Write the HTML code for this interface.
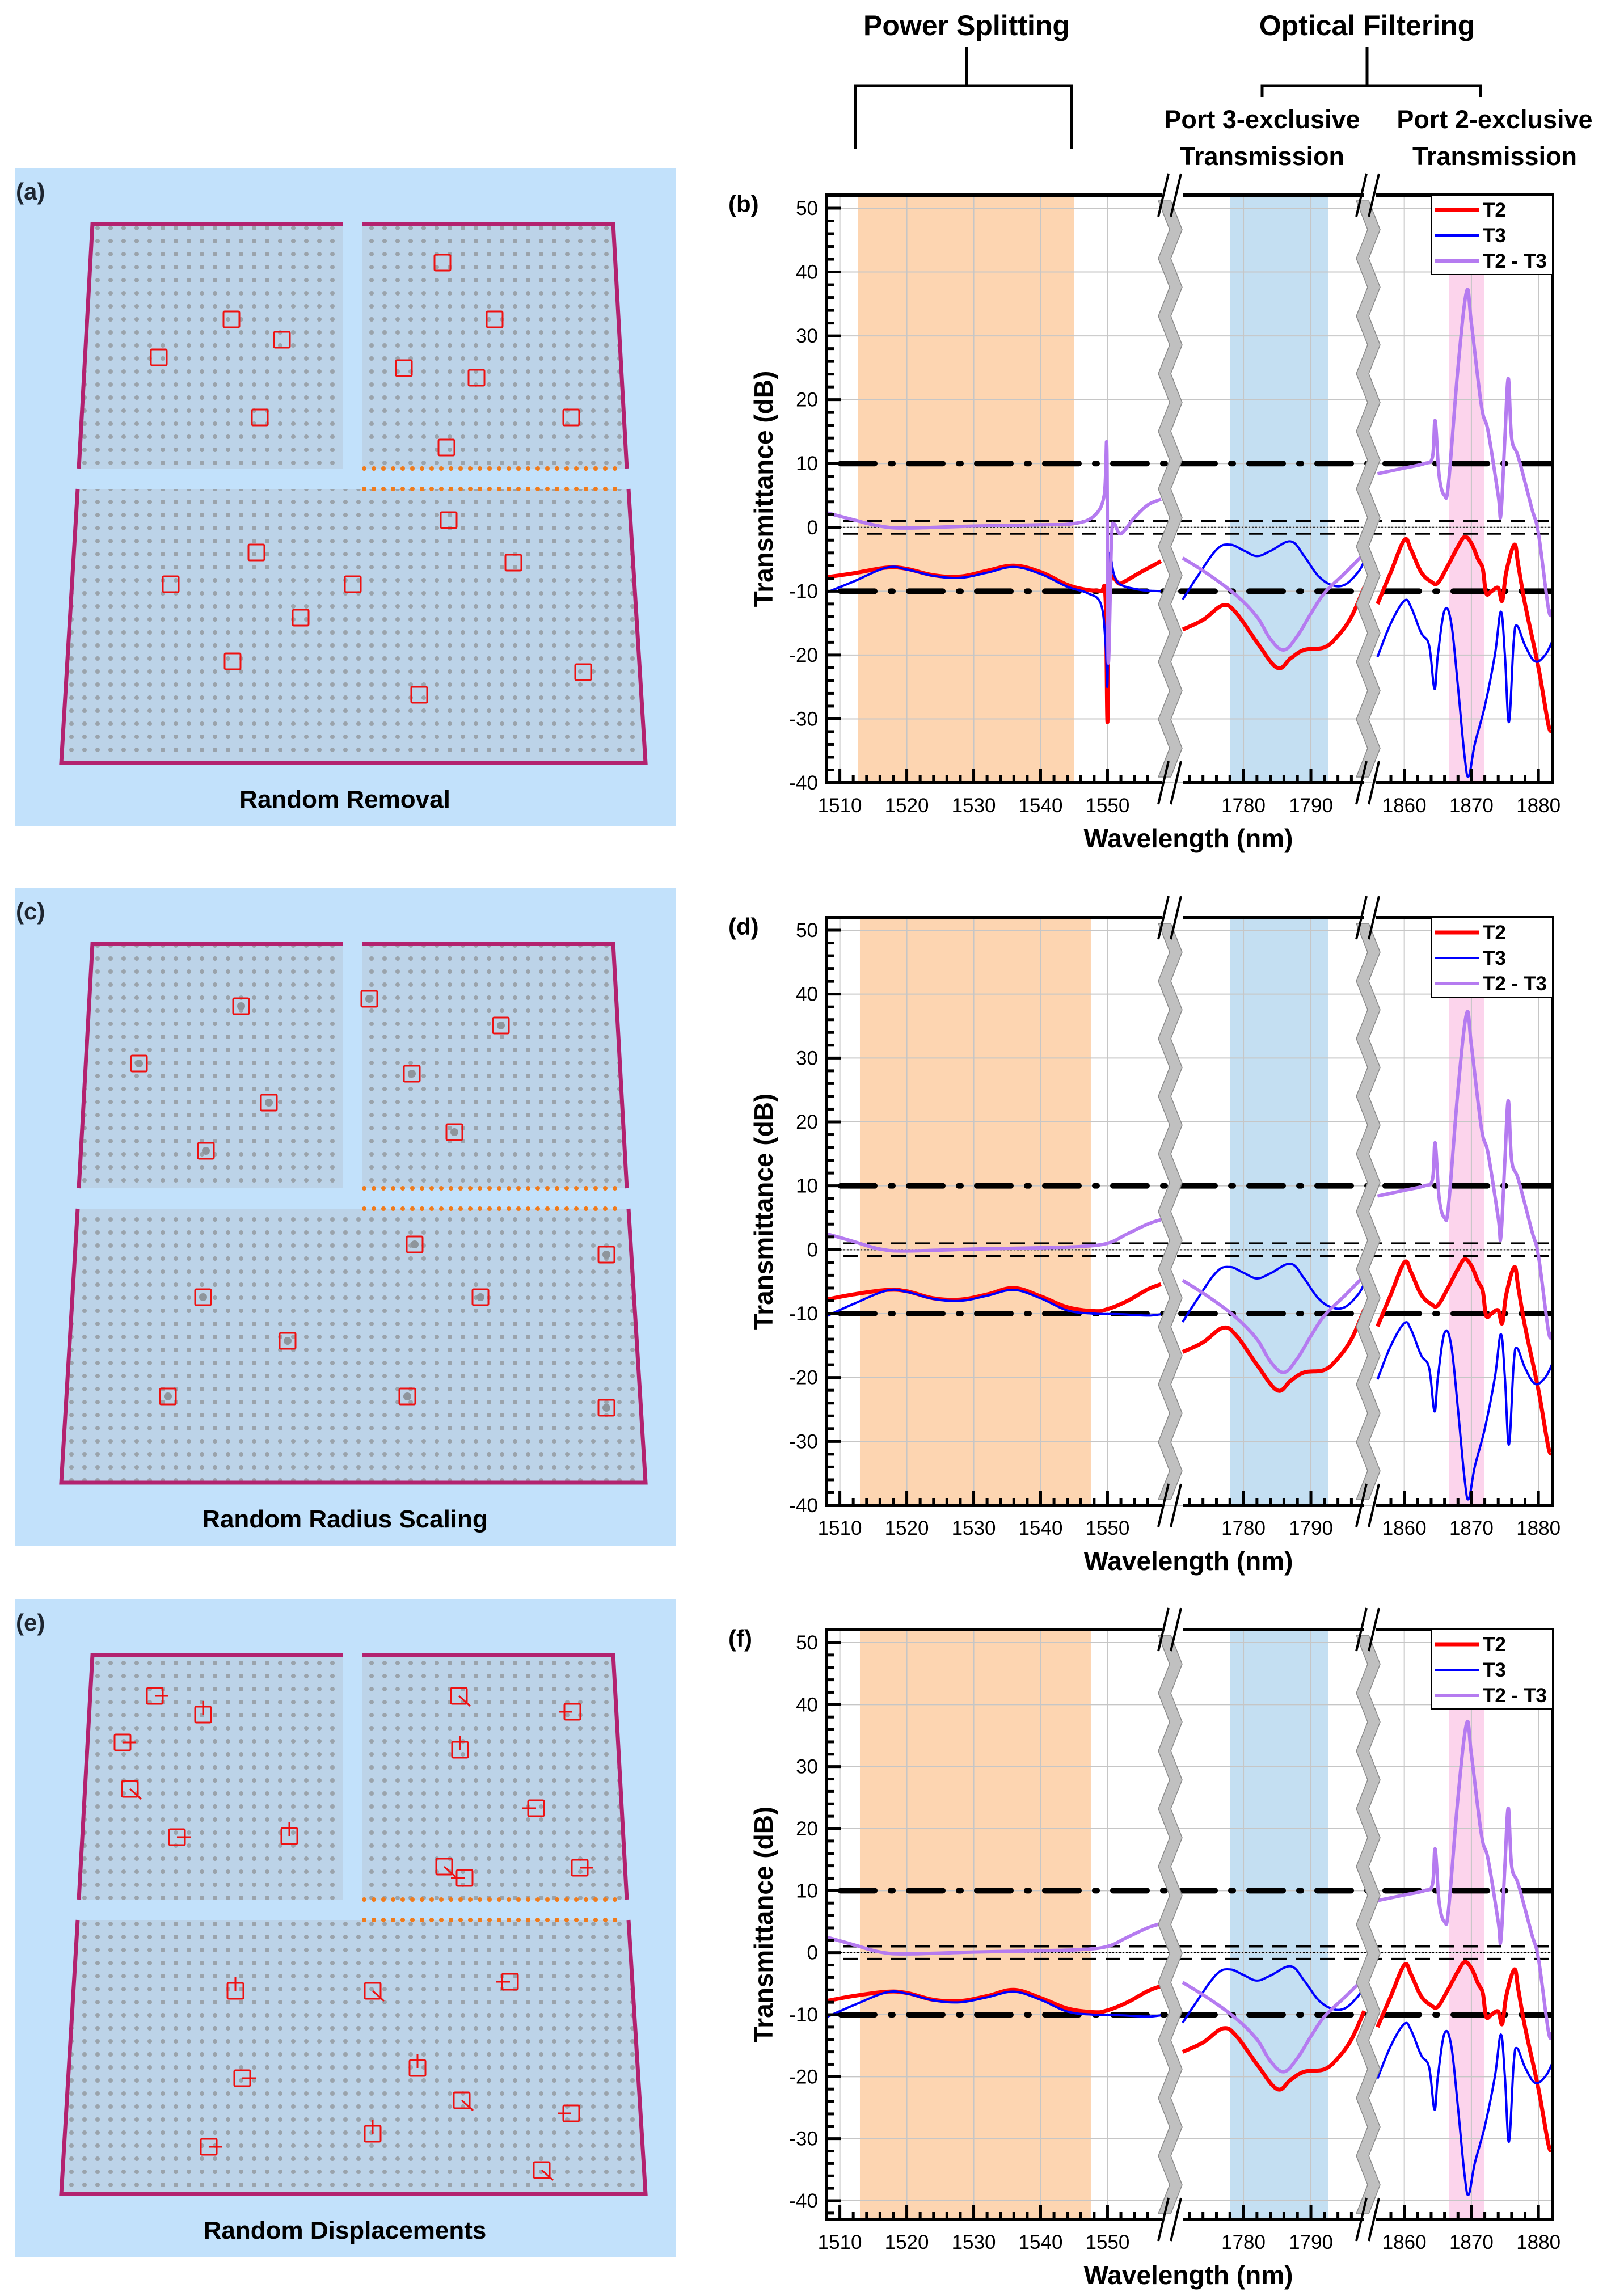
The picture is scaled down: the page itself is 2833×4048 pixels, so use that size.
<!DOCTYPE html>
<html><head><meta charset="utf-8"><style>
html,body{margin:0;padding:0;background:#fff;}
svg{display:block;}
text{font-family:"Liberation Sans",Arial,sans-serif;}
</style></head><body>
<svg id="fig" xmlns="http://www.w3.org/2000/svg" width="2833" height="4048" viewBox="0 0 2833 4048">
<defs>
<pattern id="dots" width="23" height="23" patternUnits="userSpaceOnUse"><circle cx="11" cy="11" r="4" fill="#9aa3ab"/></pattern>
</defs>
<g id="header">
<text x="1704" y="62" text-anchor="middle" font-size="50" font-weight="bold">Power Splitting</text>
<text x="2410" y="62" text-anchor="middle" font-size="50" font-weight="bold">Optical Filtering</text>
<path d="M1704 83 V151 M1508 262 V151 H1889 V262" fill="none" stroke="#000" stroke-width="5"/>
<path d="M2410 83 V151 M2225 171 V151 H2610 V171" fill="none" stroke="#000" stroke-width="5"/>
<text x="2225" y="226" text-anchor="middle" font-size="45" font-weight="bold">Port 3-exclusive</text>
<text x="2225" y="291" text-anchor="middle" font-size="45" font-weight="bold">Transmission</text>
<text x="2635" y="226" text-anchor="middle" font-size="45" font-weight="bold">Port 2-exclusive</text>
<text x="2635" y="291" text-anchor="middle" font-size="45" font-weight="bold">Transmission</text>
</g>
<g id="panels"></g>
<g id="charts"></g>
</svg>
<script>
// ---------- data: segment 1 (chart b) ----------
const bSeg1WlT2 = [1508,1512,1517,1520,1524,1528,1532,1536,1540,1544,1547,1549,1549.7,1550,1550.3,1552,1555,1558];
const bSeg1T2   = [-7.8,-7.2,-6.3,-6.5,-7.5,-7.7,-6.8,-6.0,-7.0,-9.0,-9.8,-10.0,-11,-30.5,-9.5,-8.8,-7,-5.3];
const bSeg1WlT3 = [1508,1512,1517,1520,1524,1528,1532,1536,1540,1544,1547,1549,1549.7,1550,1550.2,1551,1552,1555,1558];
const bSeg1T3   = [-10.2,-8.5,-6.3,-6.6,-7.6,-7.9,-7.1,-6.2,-7.3,-9.3,-10.3,-12,-18,-24.5,-5,-7.5,-9,-9.8,-10];
const bSeg1WlD  = [1508,1512,1516,1520,1530,1540,1545,1548,1549.5,1549.9,1550.1,1550.6,1551,1552,1554,1556,1558];
const bSeg1D    = [2.3,1.2,0.2,-0.1,0.2,0.4,0.6,1.8,5,12.2,-21,-2,0.5,-1,1.5,3.5,4.4];
// ---------- data: segment 1 (charts d, f) ----------
const dfSeg1WlT2 = [1508,1512,1517,1520,1524,1528,1532,1536,1540,1544,1548,1550,1553,1556,1558];
const dfSeg1T2   = [-7.8,-7,-6.3,-6.5,-7.6,-7.8,-7,-6.0,-7.3,-9,-9.6,-9.3,-8,-6.2,-5.4];
const dfSeg1WlT3 = [1508,1512,1517,1520,1524,1528,1532,1536,1540,1544,1548,1552,1556,1558];
const dfSeg1T3   = [-10.4,-8.5,-6.4,-6.6,-7.7,-8.0,-7.2,-6.3,-7.6,-9.5,-10,-10.1,-10.3,-10.1];
const dfSeg1WlD  = [1508,1512,1516,1520,1530,1540,1546,1550,1553,1556,1558];
const dfSeg1D    = [2.5,1.3,0.1,-0.2,0.1,0.3,0.5,1,2.5,4,4.7];
// ---------- data: segment 2 (all charts) ----------
const seg2WlT2 = [1771,1774,1777,1779,1782,1785,1787,1789,1792,1794,1796,1797.9];
const seg2T2   = [-16,-14.5,-12.2,-13.5,-18,-22,-20.5,-19.2,-18.8,-17,-14,-9.4];
const seg2WlT3 = [1771,1773,1776,1778,1780,1782,1784,1787,1789,1791,1793,1795,1797,1797.9];
const seg2T3   = [-11.3,-8,-3.5,-2.7,-3.6,-4.5,-3.7,-2.2,-4.5,-7.5,-9,-9,-7,-5.3];
const seg2WlD  = [1771,1775,1779,1782,1784,1786,1788,1790,1792,1795,1797.9];
const seg2D    = [-4.8,-7.5,-10.7,-14,-17.5,-19.2,-17,-13.5,-10.3,-7.2,-4.1];
// ---------- data: segment 3 (all charts) ----------
const seg3WlT2 = [1856,1858,1860,1861,1862.5,1864,1865,1866.5,1868,1869,1870,1871,1871.7,1872.2,1873,1874,1874.6,1875.2,1876.4,1877,1878,1880,1881.5,1882];
const seg3T2   = [-12,-7,-2,-3.5,-7,-8.5,-8.7,-6,-3,-1.5,-2.5,-5,-6.5,-10.3,-10,-9.5,-11.5,-7,-2.7,-6,-12,-22,-31,-31.5];
const seg3WlT3 = [1856,1858,1860,1861,1862.5,1863.7,1864.5,1865,1866,1867,1868,1869,1869.6,1870.5,1872,1873.5,1874.4,1875,1875.6,1876.3,1876.8,1878,1879.5,1881,1882];
const seg3T3   = [-20.3,-15,-11.5,-12.5,-16.5,-18.5,-25.3,-20,-13,-15,-25,-36,-39,-34,-28,-20,-13.2,-20,-30.5,-18,-15.4,-18.5,-21,-20,-18];
const seg3WlD  = [1856,1860,1863,1864.2,1864.6,1865.2,1866,1866.6,1868,1869.3,1870,1871.5,1872.5,1874,1874.4,1875,1875.5,1876,1877,1879,1880,1881.5,1882];
const seg3D    = [8.4,9.3,10,11,16.7,8,5,7,25,37,32,19,15,5,2,14,23.3,14,11,3,-1,-12.8,-13];
// ---------- axis tick labels & bands ----------
const yTickLabels = [50,40,30,20,10,0,-10,-20,-30,-40];
const xTicksSeg1 = [1510,1520,1530,1540,1550];
const xTicksSeg2 = [1780,1790];
const xTicksSeg3 = [1860,1870,1880];
const bandOrangeB = [1512.7,1545];
const bandOrangeDF = [1513,1547.5];
const bandBlue = [1778,1792.6];
const bandPink = [1866.7,1871.9];
const refLevelsMajor = [10,-10];
const refLevelsMinor = [1,-1];

const NS='http://www.w3.org/2000/svg';
function mk(tag, attrs, parent){const e=document.createElementNS(NS,tag);for(const k in attrs)e.setAttribute(k,attrs[k]);if(parent)parent.appendChild(e);return e;}

const SEGS=[{w0:1508,w1:1558.1,p0:1457,p1:2048},{w0:1771,w1:1797.9,p0:2085,p1:2405},{w0:1855.8,w1:1882.1,p0:2426,p1:2737}];
function xs(seg,w){const s=SEGS[seg];return s.p0+(w-s.w0)*(s.p1-s.p0)/(s.w1-s.w0);}

function smoothPath(pts){
  let d='M'+pts[0][0].toFixed(1)+' '+pts[0][1].toFixed(1);
  for(let i=0;i<pts.length-1;i++){
    const p0=pts[i-1]||pts[i],p1=pts[i],p2=pts[i+1],p3=pts[i+2]||p2;
    const t=0.18;
    const c1=[p1[0]+(p2[0]-p0[0])*t,p1[1]+(p2[1]-p0[1])*t];
    const c2=[p2[0]-(p3[0]-p1[0])*t,p2[1]-(p3[1]-p1[1])*t];
    d+=' C'+c1[0].toFixed(1)+' '+c1[1].toFixed(1)+' '+c2[0].toFixed(1)+' '+c2[1].toFixed(1)+' '+p2[0].toFixed(1)+' '+p2[1].toFixed(1);
  }
  return d;
}

function drawChart(cfg){
  const g=mk('g',{},document.getElementById('charts'));
  
  
  const L=1457,R=2737,T=cfg.top,B=cfg.bottom;
  const ys=v=>cfg.y50+(50-v)*(cfg.ym40-cfg.y50)/90;
  const clipId='clip'+cfg.id;
  const cp=mk('clipPath',{id:clipId},g);mk('rect',{x:L,y:T,width:R-L,height:B-T},cp);
  const bands=[[0,cfg.orange,'#fdd5b1','band-power-splitting'],[1,bandBlue,'#c4dff2','band-port3'],[2,bandPink,'#fcd4ec','band-port2']];
  bands.forEach(b=>{const x0=xs(b[0],b[1][0]),x1=xs(b[0],b[1][1]);
    const r=mk('rect',{x:x0,y:T,width:x1-x0,height:B-T,fill:b[2]},g);
    
    });
  const grid=mk('g',{stroke:'#c6c6c6','stroke-width':2},g);
  
  
  yTickLabels.forEach(v=>mk('line',{x1:L,x2:R,y1:ys(v),y2:ys(v)},grid));
  [[0,xTicksSeg1],[1,xTicksSeg2],[2,xTicksSeg3]].forEach(([s,arr])=>arr.forEach(w=>mk('line',{x1:xs(s,w),x2:xs(s,w),y1:T,y2:B},grid)));
  const refs=mk('g',{'clip-path':'url(#'+clipId+')'},g);
  
  
  refLevelsMajor.forEach(v=>mk('line',{x1:L+25,x2:R,y1:ys(v),y2:ys(v),stroke:'#000','stroke-width':10,'stroke-dasharray':'60 28 4 28','stroke-linecap':'round'},refs));
  refLevelsMinor.forEach(v=>mk('line',{x1:L+30,x2:R,y1:ys(v),y2:ys(v),stroke:'#000','stroke-width':3.5,'stroke-dasharray':'26 16'},refs));
  mk('line',{x1:L,x2:R,y1:ys(0),y2:ys(0),stroke:'#000','stroke-width':2,'stroke-dasharray':'3 3'},refs);
  const ser=mk('g',{'clip-path':'url(#'+clipId+')',fill:'none','stroke-linejoin':'round'},g);
  
  
  cfg.series.forEach(sr=>{
    sr.parts.forEach(([seg,wl,vals])=>{
      const pts=wl.map((w,i)=>[xs(seg,w),ys(vals[i])]);
      const p=mk('path',{d:smoothPath(pts),stroke:sr.color,'stroke-width':sr.w},ser);
      
      
    });
  });
  [2066,2415].forEach((cx,bi)=>{
    const bg=mk('g',{},g);
    
    
    let left=[],right=[];const n=Math.round((B-T)/52);
    for(let i=0;i<=n;i++){const y=T+10+(B-T-20)*i/n;const off=(i%2?1:-1)*10;left.push([cx-14+off,y]);right.push([cx+8+off,y]);}
    const poly=left.concat(right.reverse()).map(p=>p.join(',')).join(' ');
    mk('polygon',{points:poly,fill:'#c0c0c0',stroke:'#8a8a8a','stroke-width':1.5},bg);
    [T,B].forEach(y=>{mk('line',{x1:cx-24,y1:y+38,x2:cx-6,y2:y-38,stroke:'#000','stroke-width':4},bg);mk('line',{x1:cx-2,y1:y+38,x2:cx+16,y2:y-38,stroke:'#000','stroke-width':4},bg);});
  });
  const fr=mk('path',{d:`M${L} ${T} H2048 M2085 ${T} H2405 M2426 ${T} H${R} V${B} H2426 M2405 ${B} H2085 M2048 ${B} H${L} Z`,fill:'none',stroke:'#000','stroke-width':6},g);
  
  
  mk('line',{x1:L,y1:T-3,x2:L,y2:B+3,stroke:'#000','stroke-width':6},g);
  const yt=mk('g',{stroke:'#000','stroke-width':5},g);
  
  
  for(let v=50;v>=-44;v-=2){const y=ys(v);if(y<T+2||y>B-2)continue;const major=(v%10===0);mk('line',{x1:L,x2:L+(major?25:14),y1:y,y2:y},yt);}
  yTickLabels.forEach(v=>{const t=mk('text',{x:1442,y:ys(v)+12,'text-anchor':'end','font-size':35},g);t.textContent=v;
    
    });
  const xt=mk('g',{stroke:'#000','stroke-width':5},g);
  
  
  SEGS.forEach((s,si)=>{for(let w=Math.ceil(s.w0/2)*2;w<=s.w1;w+=2){const x=xs(si,w);if(x<s.p0+3||x>s.p1-3)continue;const major=w%10===0;mk('line',{x1:x,x2:x,y1:B,y2:B-(major?25:13)},xt);}});
  [[0,xTicksSeg1],[1,xTicksSeg2],[2,xTicksSeg3]].forEach(([s,arr])=>arr.forEach(w=>{const t=mk('text',{x:xs(s,w),y:B+52,'text-anchor':'middle','font-size':35},g);t.textContent=w;
    
    }));
  const xtitle=mk('text',{x:2095,y:B+114,'text-anchor':'middle','font-size':46,'font-weight':'bold'},g);xtitle.textContent='Wavelength (nm)';
  
  
  const cy=(T+B)/2;
  const ytitle=mk('text',{x:1362,y:cy,'text-anchor':'middle','font-size':46,'font-weight':'bold',transform:`rotate(-90 1362 ${cy})`},g);ytitle.textContent='Transmittance (dB)';
  
  
  const pl=mk('text',{x:1284,y:T+30,'font-size':42,'font-weight':'bold'},g);pl.textContent='('+cfg.id+')';
  
  
  const lg=mk('g',{},g);
  
  
  mk('rect',{x:2524,y:T,width:213,height:140,fill:'#fff',stroke:'#000','stroke-width':2},lg);
  cfg.series.forEach((sr,i)=>{const y=T+26+i*45;
    mk('line',{x1:2529,x2:2608,y1:y,y2:y,stroke:sr.color,'stroke-width':sr.w},lg);
    const t=mk('text',{x:2614,y:y+12,'font-size':35,'font-weight':'bold'},lg);t.textContent=sr.label;
    
    });
}

function seriesFor(s1){
  return [
    {name:'t2',label:'T2',color:'#ff0000',w:7,parts:[[0,s1[0],s1[1]],[1,seg2WlT2,seg2T2],[2,seg3WlT2,seg3T2]]},
    {name:'t3',label:'T3',color:'#0000ff',w:4,parts:[[0,s1[2],s1[3]],[1,seg2WlT3,seg2T3],[2,seg3WlT3,seg3T3]]},
    {name:'t2-minus-t3',label:'T2 - T3',color:'#b57bf0',w:6,parts:[[0,s1[4],s1[5]],[1,seg2WlD,seg2D],[2,seg3WlD,seg3D]]}
  ];
}
drawChart({id:'b',top:344,y50:367,ym40:1380,bottom:1380,orange:bandOrangeB,series:seriesFor([bSeg1WlT2,bSeg1T2,bSeg1WlT3,bSeg1T3,bSeg1WlD,bSeg1D])});
drawChart({id:'d',top:1618,y50:1640,ym40:2654,bottom:2654,orange:bandOrangeDF,series:seriesFor([dfSeg1WlT2,dfSeg1T2,dfSeg1WlT3,dfSeg1T3,dfSeg1WlD,dfSeg1D])});
drawChart({id:'f',top:2873,y50:2896,ym40:3880,bottom:3913,orange:bandOrangeDF,series:seriesFor([dfSeg1WlT2,dfSeg1T2,dfSeg1WlT3,dfSeg1T3,dfSeg1WlD,dfSeg1D])});

const squaresA=[[780,463],[408,563],[872,563],[497,599],[280,630],[712,649],[840,666],[458,736],[1007,736],[787,789],[791,917],[452,974],[905,992],[301,1030],[622,1030],[530,1089],[410,1166],[1028,1185],[739,1225]];
const squaresC=[[425,1774],[651,1761],[883,1808],[245,1875],[726,1893],[474,1944],[801,1996],[363,2029],[731,2194],[1069,2212],[358,2287],[847,2287],[507,2364],[296,2462],[718,2462],[1069,2482]];
const squaresE=[[273,2990],[358,3023],[809,2990],[1009,3018],[216,3072],[811,3085],[229,3154],[945,3188],[312,3239],[510,3237],[783,3291],[819,3311],[1022,3293],[415,3510],[657,3510],[899,3494],[427,3664],[736,3646],[814,3703],[1007,3726],[368,3785],[657,3762],[955,3826]];
function drawPanel(id,off,caption,squares,variant){
  const g=mk('g',{},document.getElementById('panels'));
  
  
  mk('rect',{x:26,y:297+off,width:1166,height:1160,fill:'#c2e1fb'},g);
  const slabs=[[[163,395],[604,395],[604,826],[139,826]],[[639,395],[1081,395],[1105,826],[639,826]],[[137,862],[1108,862],[1138,1345],[108,1345]]];
  slabs.forEach((s,i)=>{const pts=s.map(p=>p[0]+','+(p[1]+off)).join(' ');
    const sl=mk('polygon',{points:pts,fill:'#bcd3e8'},g);
    
    
    mk('polygon',{points:pts,fill:'url(#dots)'},g);});
  const bd=mk('path',{d:`M139 ${826+off} L163 ${395+off} H604 M639 ${395+off} H1081 L1105 ${826+off} M137 ${862+off} L108 ${1345+off} H1138 L1108 ${862+off}`,fill:'none',stroke:'#b3226f','stroke-width':7},g);
  
  
  for(let x=642;x<1092;x+=17){mk('circle',{cx:x,cy:826+off,r:4,fill:'#f07b1c'},g);mk('circle',{cx:x,cy:862+off,r:4,fill:'#f07b1c'},g);}
  squares.forEach(([x,y],i)=>{
    const r=mk('rect',{x:x-14,y:y-14,width:28,height:28,fill:'none',stroke:'#ee1111','stroke-width':3,rx:2},g);
    
    
    if(variant==='c'){mk('circle',{cx:x,cy:y,r:7,fill:'#8e959c'},g);}
    if(variant==='e'){const a=[[24,0],[0,-24],[20,18],[-24,0]][i%4];mk('line',{x1:x,y1:y,x2:x+a[0],y2:y+a[1],stroke:'#ee1111','stroke-width':3},g);}
  });
  const lb=mk('text',{x:28,y:352+off,'font-size':42,'font-weight':'bold',fill:'#1d2530'},g);lb.textContent='('+id+')';
  
  
  const cp=mk('text',{x:608,y:1424+off,'text-anchor':'middle','font-size':44,'font-weight':'bold',fill:'#000'},g);cp.textContent=caption;
  
  
}
drawPanel('a',0,'Random Removal',squaresA,'a');
drawPanel('c',1269,'Random Radius Scaling',squaresC,'c');
drawPanel('e',2523,'Random Displacements',squaresE,'e');
</script>
</body></html>
